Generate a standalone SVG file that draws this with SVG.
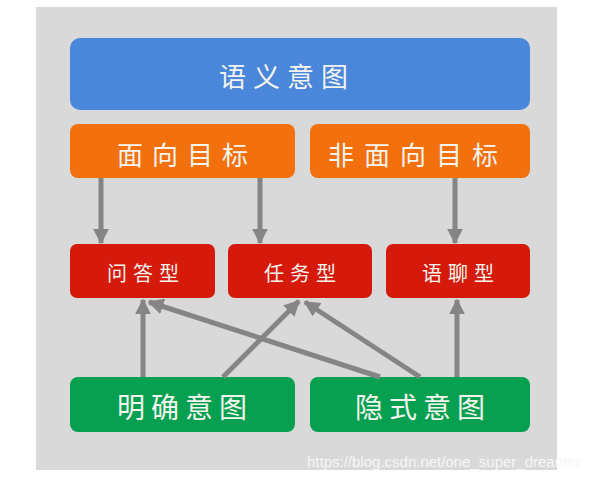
<svg xmlns="http://www.w3.org/2000/svg" width="609" height="482" viewBox="0 0 609 482">
<defs>
<style>
.lbl{font-family:"Noto Sans CJK SC","Noto Sans",sans-serif;fill:#f4f4ee;text-anchor:middle;dominant-baseline:central}
.con{stroke:#858585;stroke-width:5;fill:none}
</style>
<marker id="ah" viewBox="0 0 10 10" refX="9" refY="5" markerWidth="3.2" markerHeight="3.2" orient="auto" markerUnits="strokeWidth">
<path d="M0,0 L10,5 L0,10 Z" fill="#858585"/>
</marker>
</defs>
<rect width="609" height="482" fill="#ffffff"/>
<rect x="36" y="7" width="521" height="463" fill="#d9d9d9"/>
<g id="semantic">
<rect x="70" y="38" width="460" height="72" rx="10" fill="#4a86d9"/>
<text class="lbl" x="287" y="75" font-size="27" letter-spacing="7">语义意图</text>
</g>
<g id="goal">
<rect x="70" y="124" width="225" height="54" rx="8" fill="#f2700e"/>
<text class="lbl" x="187" y="153" font-size="26" letter-spacing="9">面向目标</text>
</g>
<g id="nongoal">
<rect x="310" y="124" width="220" height="54" rx="8" fill="#f2700e"/>
<text class="lbl" x="418" y="153" font-size="26" letter-spacing="10">非面向目标</text>
</g>
<g id="qa">
<rect x="70" y="244" width="145" height="54" rx="7" fill="#d51a0b"/>
<text class="lbl" x="146" y="272" font-size="20" letter-spacing="6">问答型</text>
</g>
<g id="task">
<rect x="228" y="244" width="144" height="54" rx="7" fill="#d51a0b"/>
<text class="lbl" x="303" y="272" font-size="20" letter-spacing="6">任务型</text>
</g>
<g id="chat">
<rect x="386" y="244" width="144" height="54" rx="7" fill="#d51a0b"/>
<text class="lbl" x="461" y="272" font-size="20" letter-spacing="6">语聊型</text>
</g>
<g id="explicit">
<rect x="70" y="377" width="225" height="55" rx="8" fill="#06a050"/>
<text class="lbl" x="185" y="406" font-size="28" letter-spacing="6">明确意图</text>
</g>
<g id="implicit">
<rect x="310" y="377" width="220" height="55" rx="8" fill="#06a050"/>
<text class="lbl" x="423" y="406" font-size="28" letter-spacing="6">隐式意图</text>
</g>
<g id="connectors">
<line class="con" x1="101" y1="178" x2="101" y2="243" marker-end="url(#ah)"/>
<line class="con" x1="260" y1="178" x2="260" y2="243" marker-end="url(#ah)"/>
<line class="con" x1="455" y1="178" x2="455" y2="243" marker-end="url(#ah)"/>
<line class="con" x1="143" y1="377" x2="143" y2="300" marker-end="url(#ah)"/>
<line class="con" x1="223" y1="377" x2="299" y2="301" marker-end="url(#ah)"/>
<line class="con" x1="380" y1="377" x2="149" y2="302" marker-end="url(#ah)"/>
<line class="con" x1="420" y1="377" x2="305" y2="302" marker-end="url(#ah)"/>
<line class="con" x1="457" y1="377" x2="457" y2="300" marker-end="url(#ah)"/>
</g>
<text x="307" y="467" font-family="Liberation Sans, Arial, sans-serif" font-size="15" fill="#f6f6f6">https://blog.csdn.net/one_super_dreamer</text>
</svg>
